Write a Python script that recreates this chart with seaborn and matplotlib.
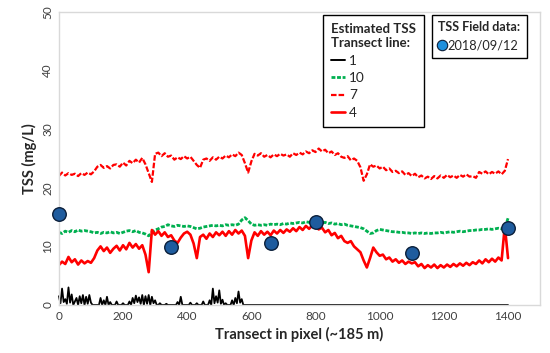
import numpy as np
import pandas as pd
import matplotlib
matplotlib.use('Agg')
import matplotlib.pyplot as plt
import seaborn as sns
from matplotlib.lines import Line2D

# Transect positions (pixels), step 10
x_grid = list(range(0, 1410, 10))

# Estimated TSS along transect line 7 (red dashed)
tss_line7 = [
    22.0, 22.6, 22.1, 22.5, 22.2, 22.4, 22.0, 22.5, 22.2, 22.6,
    22.3, 22.8, 23.6, 23.9, 23.4, 23.7, 23.3, 23.9, 24.0, 23.6,
    24.3, 23.8, 24.6, 24.2, 24.8, 24.3, 25.1, 24.0, 22.5, 21.0,
    25.8, 26.0, 25.4, 25.9, 25.3, 25.5, 24.8, 25.2, 24.9, 25.4,
    25.0, 25.3, 24.6, 23.9, 23.4, 24.8, 25.0, 24.6, 25.2, 24.8,
    25.3, 25.0, 25.5, 25.2, 25.7, 25.4, 26.0, 25.6, 24.2, 22.6,
    24.5, 25.8, 25.5, 25.9, 25.3, 25.6, 25.2, 25.7, 25.4, 25.8,
    25.5, 25.7, 25.3, 25.9, 25.6, 26.0, 25.7, 26.2, 25.9, 26.4,
    26.1, 26.7, 26.2, 26.5, 25.9, 26.2, 25.6, 25.9, 25.3, 25.1,
    25.4, 24.7, 25.0, 24.6, 23.5, 21.2, 22.3, 24.0, 23.6, 23.8,
    23.3, 23.6, 23.0, 23.3, 22.7, 22.9, 22.5, 22.8, 22.2, 22.5,
    22.0, 22.4, 21.8, 22.1, 21.6, 21.9, 21.5, 22.0, 21.6, 22.1,
    21.7, 22.2, 21.8, 22.1, 21.7, 22.2, 21.9, 22.3, 21.9, 22.0,
    21.7, 22.7, 22.4, 22.8, 22.3, 22.7, 22.4, 22.8, 22.3, 22.9,
    24.9,
]

# Estimated TSS along transect line 10 (green dashed)
tss_line10 = [
    12.4, 12.2, 12.6, 12.4, 12.7, 12.5, 12.8, 12.6, 12.7, 12.6,
    12.5, 12.3, 12.4, 12.2, 12.4, 12.3, 12.5, 12.3, 12.4, 12.2,
    12.4, 12.6, 12.7, 12.5, 12.7, 12.4, 12.3, 12.1, 11.8, 12.4,
    12.8, 13.0, 13.3, 13.4, 13.7, 13.5, 13.4, 13.6, 13.5, 13.4,
    13.5, 13.4, 13.2, 13.0, 13.1, 13.3, 13.4, 13.5, 13.6, 13.5,
    13.6, 13.5, 13.7, 13.6, 13.7, 13.6, 13.8, 14.5, 14.9, 14.4,
    13.8, 13.6, 13.7, 13.6, 13.7, 13.6, 13.8, 13.7, 13.8, 13.7,
    13.9, 13.8, 14.0, 13.9, 14.0, 14.1, 14.0, 14.2, 14.1, 14.3,
    14.2, 14.1, 14.0, 14.1, 13.9, 14.0, 13.8, 13.9, 13.7, 13.8,
    13.6, 13.5, 13.4, 13.3, 13.2, 13.0, 12.6, 12.2, 12.3, 12.7,
    12.9, 12.8, 12.7, 12.6, 12.5, 12.5, 12.4, 12.4, 12.3, 12.3,
    12.2, 12.3, 12.2, 12.3, 12.2, 12.3, 12.2, 12.3, 12.3, 12.4,
    12.3, 12.4, 12.5, 12.4, 12.5, 12.6, 12.5, 12.6, 12.7, 12.7,
    12.8, 12.8, 12.9, 12.9, 13.0, 12.9, 13.0, 13.1, 13.0, 13.1,
    14.8,
]

# Estimated TSS along transect line 4 (red solid)
tss_line4 = [
    6.8, 7.4, 7.0, 8.2, 7.3, 7.8, 6.9, 7.6, 7.1, 7.5,
    7.2, 8.0, 9.3, 10.0, 9.2, 9.8, 8.9, 9.6, 10.1, 9.3,
    10.2, 9.5, 10.6, 9.8, 10.4, 9.6, 10.2, 8.6, 5.6, 12.8,
    12.0, 12.6, 11.8, 12.4, 11.6, 11.9, 11.0, 10.6, 11.5, 12.2,
    12.5, 12.0, 10.5, 8.0, 11.6, 12.0, 11.3, 12.2, 11.6, 12.4,
    11.9, 12.5, 11.8, 12.6, 12.0, 12.8, 12.2, 12.7, 11.8, 8.0,
    11.0, 12.4, 11.8, 12.6, 12.0, 12.5, 11.9, 12.7, 12.2, 12.8,
    12.3, 12.9, 12.5, 13.1, 12.6, 13.3, 12.8, 13.5, 13.0, 13.6,
    13.4, 12.9, 13.2, 12.4, 12.8, 11.9, 12.3, 11.4, 11.8, 10.9,
    10.6, 10.9, 10.0, 9.5, 9.0, 7.6, 6.4, 8.0, 9.8, 9.0,
    8.4, 8.6, 7.8, 8.1, 7.4, 7.8, 7.2, 7.6, 7.0, 7.4,
    7.1, 7.3, 6.6, 7.0, 6.3, 6.8, 6.4, 6.9, 6.3, 6.8,
    6.4, 6.9, 6.5, 7.0, 6.6, 7.1, 6.7, 7.2, 6.8, 7.3,
    7.0, 7.6, 7.1, 7.8, 7.3, 7.9, 7.4, 8.1, 7.6, 13.5,
    8.0,
]

# Estimated TSS along transect line 1 (black), step 5 up to 580, flat at 0 after
line1_x = list(range(0, 585, 5)) + [1400]
tss_line1 = [
    1.5, 0.3, 2.8, 0.5, 1.0, 0.2, 3.0, 0.4, 1.8, 0.0,
    0.6, 1.2, 0.0, 1.5, 0.3, 1.7, 0.0, 1.4, 0.2, 1.7,
    0.4, 0.0, 0.0, 0.0, 0.0, 0.0, 1.2, 0.0, 0.8, 0.0,
    1.4, 0.0, 0.5, 0.0, 0.0, 0.0, 0.6, 0.0, 0.0, 0.0,
    0.3, 0.0, 0.0, 0.0, 0.6, 0.0, 1.2, 0.3, 1.6, 0.5,
    1.3, 0.2, 1.7, 0.0, 1.5, 0.2, 1.7, 0.0, 1.4, 0.3,
    0.8, 0.0, 0.0, 0.3, 0.0, 0.0, 0.0, 0.2, 0.0, 0.0,
    0.0, 0.0, 0.0, 0.0, 0.5, 0.0, 1.4, 0.0, 0.0, 0.0,
    0.0, 0.0, 0.4, 0.0, 0.0, 0.0, 0.3, 0.0, 0.0, 0.0,
    0.6, 0.0, 0.0, 0.0, 0.8, 0.0, 2.8, 0.3, 1.5, 0.4,
    2.5, 0.2, 0.9, 0.0, 0.3, 0.0, 0.0, 0.0, 0.8, 0.0,
    1.2, 0.3, 2.3, 0.4, 1.0, 0.0, 0.0,
    0.0,
]

# Field measurements 2018/09/12
field_x = [0, 350, 660, 800, 1100, 1400]
field_tss = [15.6, 9.9, 10.6, 14.2, 8.8, 13.1]

RED = '#FF0000'
GREEN = '#00B050'
DASH7 = [2.5, 0.9]
DASH10 = [1.4, 0.6]

sns.set_style("white")
plt.rcParams['font.family'] = ['Lato', 'DejaVu Sans']

fig = plt.figure(figsize=(5.5, 3.53), dpi=100)
ax = fig.add_axes([0.107, 0.136, 0.875, 0.83])

sns.lineplot(x=x_grid, y=tss_line7, ax=ax, color=RED, lw=1.6,
             sort=False, estimator=None)
ax.lines[-1].set_dashes(DASH7)
sns.lineplot(x=x_grid, y=tss_line10, ax=ax, color=GREEN, lw=2.0,
             sort=False, estimator=None)
ax.lines[-1].set_dashes(DASH10)
sns.lineplot(x=x_grid, y=tss_line4, ax=ax, color=RED, lw=1.9,
             sort=False, estimator=None)
sns.lineplot(x=line1_x, y=tss_line1, ax=ax, color='black', lw=1.3,
             sort=False, estimator=None)
ax.lines[-1].set_clip_on(False)

sns.scatterplot(x=field_x, y=field_tss, ax=ax, s=95, color='#1F5C9E',
                edgecolor='#0B1F3A', linewidth=1.0, zorder=5, clip_on=False)

ax.set_xlim(0, 1500)
ax.set_ylim(0, 50)
ax.set_xticks(range(0, 1401, 200))
ax.set_yticks(range(0, 51, 10))
ax.tick_params(axis='both', length=0, labelsize=8.5, colors='#404040', pad=4)
for lab in ax.get_yticklabels():
    lab.set_rotation(90)
    lab.set_va('center')
for sp in ax.spines.values():
    sp.set_color('#D9D9D9')
    sp.set_linewidth(1.0)

ax.set_xlabel('Transect in pixel (~185 m)', fontsize=10.5, fontweight='bold', labelpad=4)
ax.set_ylabel('TSS (mg/L)', fontsize=10.5, fontweight='bold', labelpad=4)

h_lines = [
    Line2D([], [], color='black', lw=1.4),
    Line2D([], [], color=GREEN, lw=2.0, dashes=DASH10),
    Line2D([], [], color=RED, lw=1.6, dashes=DASH7),
    Line2D([], [], color=RED, lw=1.9),
]
leg1 = ax.legend(h_lines, ['1', '10', '7', '4'], title='Estimated TSS\nTransect line:',
                 loc='upper left', bbox_to_anchor=(0.549, 0.99), borderaxespad=0,
                 fontsize=9.8, title_fontproperties={'weight': 'bold', 'size': 9.5},
                 alignment='left', fancybox=False, edgecolor='black',
                 handlelength=1.0, handletextpad=0.3, labelspacing=0.4,
                 borderpad=0.6, framealpha=1)
leg1.get_frame().set_linewidth(1.0)
ax.add_artist(leg1)

h_pt = [Line2D([], [], ls='none', marker='o', markersize=7.5,
               markerfacecolor='#1E8FDC', markeredgecolor='#0B1F3A', markeredgewidth=0.8)]
leg2 = ax.legend(h_pt, ['2018/09/12'], title='TSS Field data:',
                 loc='upper left', bbox_to_anchor=(0.775, 0.99), borderaxespad=0,
                 fontsize=9.2, title_fontproperties={'weight': 'bold', 'size': 9.0},
                 alignment='left', fancybox=False, edgecolor='black',
                 handlelength=0.6, handletextpad=0.15, borderpad=0.5, framealpha=1)
leg2.get_frame().set_linewidth(1.0)

fig.savefig('out.png', dpi=100)
